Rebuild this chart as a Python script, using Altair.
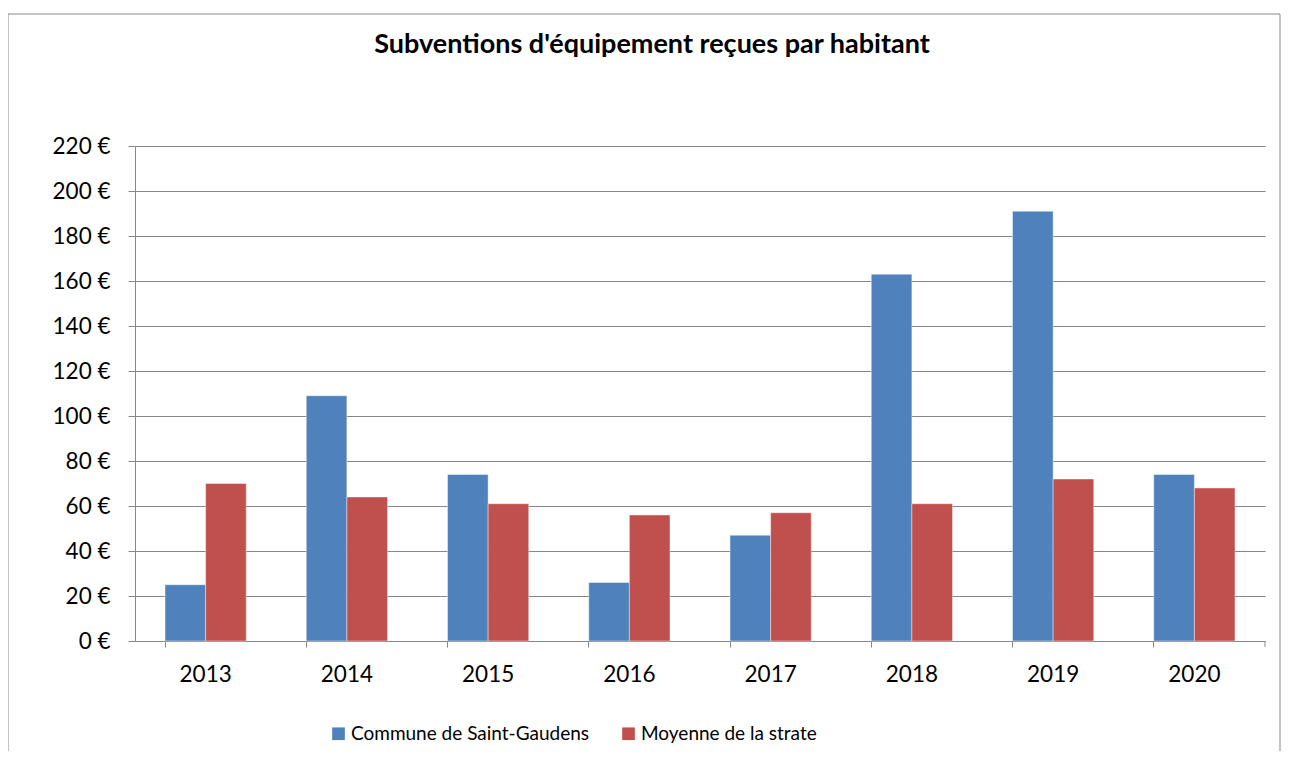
import altair as alt
import pandas as pd

years = ["2013", "2014", "2015", "2016", "2017", "2018", "2019", "2020"]
commune = [25, 109, 74, 26, 47, 163, 191, 74]
strate = [70, 64, 61, 56, 57, 61, 72, 68]
series = ["Commune de Saint-Gaudens", "Moyenne de la strate"]
colors = ["#4F81BD", "#C0504D"]
y_ticks = list(range(0, 221, 20))
title_text = "Subventions d'équipement reçues par habitant"

rows = []
for i, yr in enumerate(years):
    rows.append({"annee": yr, "serie": series[0], "valeur": commune[i]})
    rows.append({"annee": yr, "serie": series[1], "valeur": strate[i]})
df = pd.DataFrame(rows)

FONT = "Lato"
GRAY = "#878787"
FS = 22.5

bars = alt.Chart(df).mark_bar(stroke="#ffffff", strokeWidth=0.6, strokeOpacity=0.7).encode(
    x=alt.X(
        "annee:N", sort=years, title=None,
        scale=alt.Scale(paddingInner=0.425, paddingOuter=0.2125),
        axis=alt.Axis(labelAngle=0, bandPosition=0, tickSize=6, tickColor=GRAY,
                      domainColor=GRAY, labelPadding=16, labelFont=FONT,
                      labelFontSize=FS, labelColor="#000000", grid=False),
    ),
    xOffset=alt.XOffset("serie:N", sort=series,
                        scale=alt.Scale(paddingInner=0, paddingOuter=0)),
    y=alt.Y(
        "valeur:Q", title=None,
        scale=alt.Scale(domain=[0, 220], nice=False),
        axis=alt.Axis(values=y_ticks, labelExpr="datum.value + ' €'",
                      tickSize=7, tickColor=GRAY, domainColor=GRAY,
                      gridColor=GRAY, gridWidth=1.2, labelPadding=18,
                      labelFont=FONT, labelFontSize=FS, labelColor="#000000"),
    ),
    color=alt.Color(
        "serie:N", sort=series,
        scale=alt.Scale(domain=series, range=colors),
        legend=alt.Legend(title=None, orient="none", legendX=194, legendY=578,
                          direction="horizontal", symbolType="square",
                          symbolSize=160, symbolStrokeWidth=0, labelFont=FONT,
                          labelFontSize=19, labelColor="#000000", labelLimit=500,
                          columnPadding=29, labelOffset=3),
    ),
)

one = alt.Data(values=[{"f": 1}])

frame = alt.Chart(one).mark_rect(
    fillOpacity=0, stroke=GRAY, strokeWidth=1
).encode(
    x=alt.value(-127), x2=alt.value(1145), y=alt.value(-132), y2=alt.value(700)
)

title = alt.Chart(alt.Data(values=[{"t": title_text}])).mark_text(
    font=FONT, fontSize=27, fontWeight="bold", color="#000000",
    align="center", baseline="alphabetic"
).encode(text="t:N", x=alt.value(517), y=alt.value(-93))

endtick = alt.Chart(one).mark_rule(
    color=GRAY, strokeWidth=1
).encode(x=alt.value(1130), y=alt.value(495), y2=alt.value(501))

chart = alt.layer(frame, bars, endtick, title).properties(
    width=1130, height=495,
    autosize=alt.AutoSizeParams(type="none"),
    padding={"left": 127, "top": 138, "right": 16, "bottom": 110},
).configure_view(stroke=None)

chart.save("out.html", embed_options={"renderer": "svg", "actions": False})
